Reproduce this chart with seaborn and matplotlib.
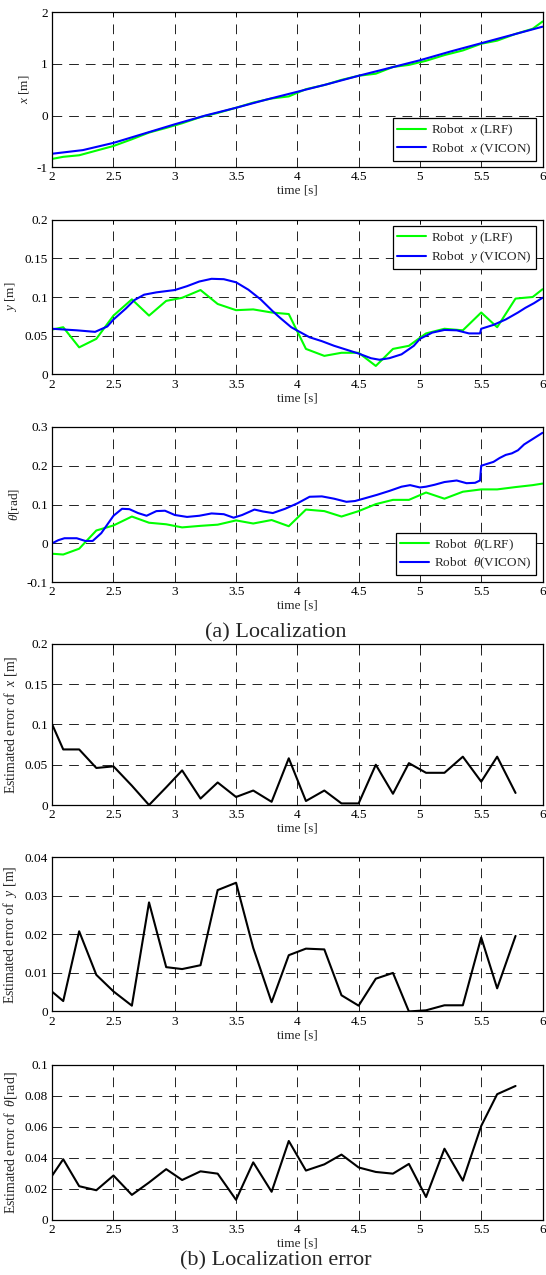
import numpy as np
import pandas as pd
import matplotlib
matplotlib.use('Agg')
import matplotlib.pyplot as plt
import matplotlib.ticker as mticker
import seaborn as sns

# LRF sample times (error curves use the first 28 of them)
t_lrf = [2.00, 2.09, 2.22, 2.36, 2.50, 2.65, 2.79, 2.93, 3.06, 3.21, 3.35, 3.50, 3.64, 3.79, 3.93,
         4.07, 4.22, 4.36, 4.50, 4.64, 4.78, 4.91, 5.05, 5.20, 5.35, 5.50, 5.63, 5.78, 5.92, 6.00]

# robot x
x_lrf = [-0.84, -0.80, -0.77, -0.68, -0.59, -0.46, -0.33, -0.24, -0.15, -0.03, 0.05, 0.15, 0.25, 0.33, 0.37,
         0.51, 0.59, 0.69, 0.77, 0.81, 0.94, 0.98, 1.06, 1.17, 1.26, 1.39, 1.45, 1.58, 1.68, 1.82]
t_vx = [2.0, 2.25, 2.5, 2.75, 3.0, 3.25, 3.5, 3.75, 4.0, 4.25, 4.5, 4.75, 5.0, 5.25, 5.5, 5.75, 6.0]
x_vicon = [-0.74, -0.67, -0.53, -0.35, -0.17, 0.0, 0.15, 0.31, 0.46, 0.61, 0.77, 0.92, 1.07, 1.24, 1.40, 1.56, 1.72]

# robot y
y_lrf = [0.058, 0.061, 0.035, 0.046, 0.076, 0.097, 0.076, 0.095, 0.099, 0.109, 0.091, 0.083, 0.084, 0.080, 0.078,
         0.033, 0.024, 0.028, 0.028, 0.011, 0.033, 0.037, 0.053, 0.059, 0.057, 0.080, 0.061, 0.098, 0.100, 0.110]
t_vy = [2.0, 2.2, 2.35, 2.45, 2.5, 2.6, 2.67, 2.75, 2.85, 2.95, 3.0, 3.1, 3.2, 3.3, 3.4, 3.5, 3.6, 3.7, 3.8,
        3.86, 3.95, 4.0, 4.1, 4.2, 4.3, 4.4, 4.5, 4.6, 4.67, 4.75, 4.85, 4.95, 5.0, 5.1, 5.2, 5.3, 5.4,
        5.49, 5.5, 5.6, 5.7, 5.8, 5.86, 5.93, 6.0]
y_vicon = [0.059, 0.057, 0.055, 0.062, 0.071, 0.085, 0.096, 0.103, 0.106, 0.108, 0.109, 0.114, 0.120, 0.1235,
           0.123, 0.119, 0.1095, 0.097, 0.0815, 0.073, 0.061, 0.0566, 0.048, 0.043, 0.037, 0.032, 0.027, 0.021,
           0.019, 0.021, 0.026, 0.037, 0.046, 0.054, 0.0575, 0.057, 0.053, 0.053, 0.059, 0.064, 0.071, 0.080,
           0.086, 0.092, 0.099]

# robot theta
th_lrf = [-0.027, -0.029, -0.014, 0.033, 0.046, 0.069, 0.053, 0.049, 0.041, 0.045, 0.048, 0.059, 0.051, 0.060,
          0.044, 0.087, 0.083, 0.069, 0.083, 0.101, 0.112, 0.112, 0.131, 0.115, 0.133, 0.139, 0.139, 0.145,
          0.150, 0.154]
t_vth = [2.0, 2.05, 2.1, 2.2, 2.27, 2.33, 2.4, 2.5, 2.57, 2.63, 2.7, 2.77, 2.85, 2.92, 3.0, 3.1, 3.2, 3.3,
         3.4, 3.48, 3.55, 3.65, 3.72, 3.8, 3.9, 4.0, 4.1, 4.2, 4.3, 4.4, 4.47, 4.55, 4.65, 4.75, 4.85, 4.92,
         5.0, 5.05, 5.12, 5.2, 5.3, 5.38, 5.45, 5.49, 5.5, 5.55, 5.6, 5.65, 5.7, 5.75, 5.8, 5.85, 5.9, 5.95, 6.0]
th_vicon = [0.0, 0.008, 0.013, 0.013, 0.006, 0.006, 0.026, 0.071, 0.089, 0.088, 0.078, 0.071, 0.083, 0.084,
            0.073, 0.068, 0.071, 0.077, 0.075, 0.066, 0.073, 0.087, 0.082, 0.078, 0.089, 0.103, 0.120, 0.121,
            0.115, 0.107, 0.109, 0.116, 0.125, 0.135, 0.146, 0.150, 0.144, 0.146, 0.151, 0.158, 0.162, 0.155,
            0.156, 0.162, 0.200, 0.205, 0.210, 0.220, 0.228, 0.232, 0.240, 0.255, 0.265, 0.275, 0.285]

# estimated errors
err_x = [0.100, 0.069, 0.069, 0.046, 0.048, 0.024, 0.000, 0.022, 0.043, 0.008, 0.028, 0.010, 0.018, 0.004,
         0.058, 0.005, 0.018, 0.002, 0.002, 0.050, 0.014, 0.052, 0.040, 0.040, 0.060, 0.029, 0.060, 0.015]
err_y = [0.0051, 0.0027, 0.0208, 0.0095, 0.0052, 0.0015, 0.0283, 0.0115, 0.0110, 0.0120, 0.0315, 0.0334,
         0.0165, 0.0024, 0.0146, 0.0163, 0.0161, 0.0042, 0.0015, 0.0085, 0.0100, 0.0000, 0.0003, 0.0016,
         0.0016, 0.0192, 0.0060, 0.0196]
err_th = [0.0285, 0.039, 0.0216, 0.019, 0.0285, 0.016, 0.024, 0.0326, 0.0256, 0.0312, 0.0297, 0.0128, 0.037,
          0.018, 0.0508, 0.0317, 0.0357, 0.042, 0.0337, 0.0308, 0.0297, 0.036, 0.0146, 0.0458, 0.0252,
          0.0605, 0.081, 0.0863]
t_err = t_lrf[:28]

sns.set_style('white')
plt.rcParams['font.family'] = ['Liberation Serif', 'DejaVu Serif']
plt.rcParams['mathtext.fontset'] = 'custom'
plt.rcParams['mathtext.rm'] = 'Liberation Serif'
plt.rcParams['mathtext.it'] = 'Liberation Serif:italic'
plt.rcParams['axes.unicode_minus'] = False
plt.rcParams['lines.scale_dashes'] = False

GREEN = '#00ff00'
BLUE = '#0000ff'
FS = 9.5

fig = plt.figure(figsize=(5.46, 12.75), dpi=100)
L, W = 0.0956, 0.898
boxes = [(0.8689, 0.1215), (0.7063, 0.1215), (0.5435, 0.1216),
         (0.3686, 0.1264), (0.2067, 0.1209), (0.0434, 0.1215)]
axes = [fig.add_axes([L, b, W, h]) for b, h in boxes]


def style(ax, ylim, yticks, ylabel, ylab_fs=FS):
    ax.set_xlim(2, 6)
    ax.set_ylim(*ylim)
    ax.set_xticks(np.arange(2, 6.01, 0.5))
    ax.set_yticks(yticks)
    ax.xaxis.set_major_formatter(mticker.FuncFormatter(lambda v, p: '%g' % v))
    ax.yaxis.set_major_formatter(mticker.FuncFormatter(lambda v, p: '%g' % round(v, 4)))
    ax.grid(True, color='#222222', lw=0.7, linestyle=(0, (7, 5)))
    ax.tick_params(direction='in', length=3, width=0.6, top=True, right=True,
                   labelsize=FS, pad=3, colors='black')
    for s in ax.spines.values():
        s.set_color('black')
        s.set_linewidth(0.9)
    ax.set_xlabel('time [s]', fontsize=FS, labelpad=1)
    ax.set_ylabel(ylabel, fontsize=ylab_fs, labelpad=4)
    ax.set_axisbelow(True)


def legend(ax, loc):
    lg = ax.legend(loc=loc, fontsize=FS, frameon=True, fancybox=False, framealpha=1,
                   edgecolor='black', borderaxespad=0.5, handlelength=2.2,
                   borderpad=0.3, labelspacing=0.25, handletextpad=0.4)
    lg.get_frame().set_linewidth(0.9)


# (a) localization
ax = axes[0]
sns.lineplot(x=t_lrf, y=x_lrf, ax=ax, color=GREEN, lw=1.5, label='Robot  $x$ (LRF)')
sns.lineplot(x=t_vx, y=x_vicon, ax=ax, color=BLUE, lw=1.5, label='Robot  $x$ (VICON)')
style(ax, (-1, 2), [-1, 0, 1, 2], '$x$ [m]')
legend(ax, 'lower right')

ax = axes[1]
sns.lineplot(x=t_lrf, y=y_lrf, ax=ax, color=GREEN, lw=1.5, label='Robot  $y$ (LRF)')
sns.lineplot(x=t_vy, y=y_vicon, ax=ax, color=BLUE, lw=1.5, label='Robot  $y$ (VICON)')
style(ax, (0, 0.2), [0, 0.05, 0.1, 0.15, 0.2], '$y$ [m]')
legend(ax, 'upper right')

ax = axes[2]
sns.lineplot(x=t_lrf, y=th_lrf, ax=ax, color=GREEN, lw=1.5, label=r'Robot  $\theta$(LRF)')
sns.lineplot(x=t_vth, y=th_vicon, ax=ax, color=BLUE, lw=1.5, label=r'Robot  $\theta$(VICON)')
style(ax, (-0.1, 0.3), [-0.1, 0, 0.1, 0.2, 0.3], r'$\theta$[rad]')
legend(ax, 'lower right')

# (b) localization error
ax = axes[3]
sns.lineplot(x=t_err, y=err_x, ax=ax, color='black', lw=1.5)
style(ax, (0, 0.2), [0, 0.05, 0.1, 0.15, 0.2], 'Estimated error of  $x$ [m]', 10)

ax = axes[4]
sns.lineplot(x=t_err, y=err_y, ax=ax, color='black', lw=1.5)
style(ax, (0, 0.04), [0, 0.01, 0.02, 0.03, 0.04], 'Estimated error of  $y$ [m]', 10)

ax = axes[5]
sns.lineplot(x=t_err, y=err_th, ax=ax, color='black', lw=1.5)
style(ax, (0, 0.1), [0, 0.02, 0.04, 0.06, 0.08, 0.1], r'Estimated error of  $\theta$[rad]', 10)

fig.text(0.505, 0.504, '(a) Localization', ha='center', va='center', fontsize=16)
fig.text(0.505, 0.011, '(b) Localization error', ha='center', va='center', fontsize=16)

fig.savefig('out.png', dpi=100)
